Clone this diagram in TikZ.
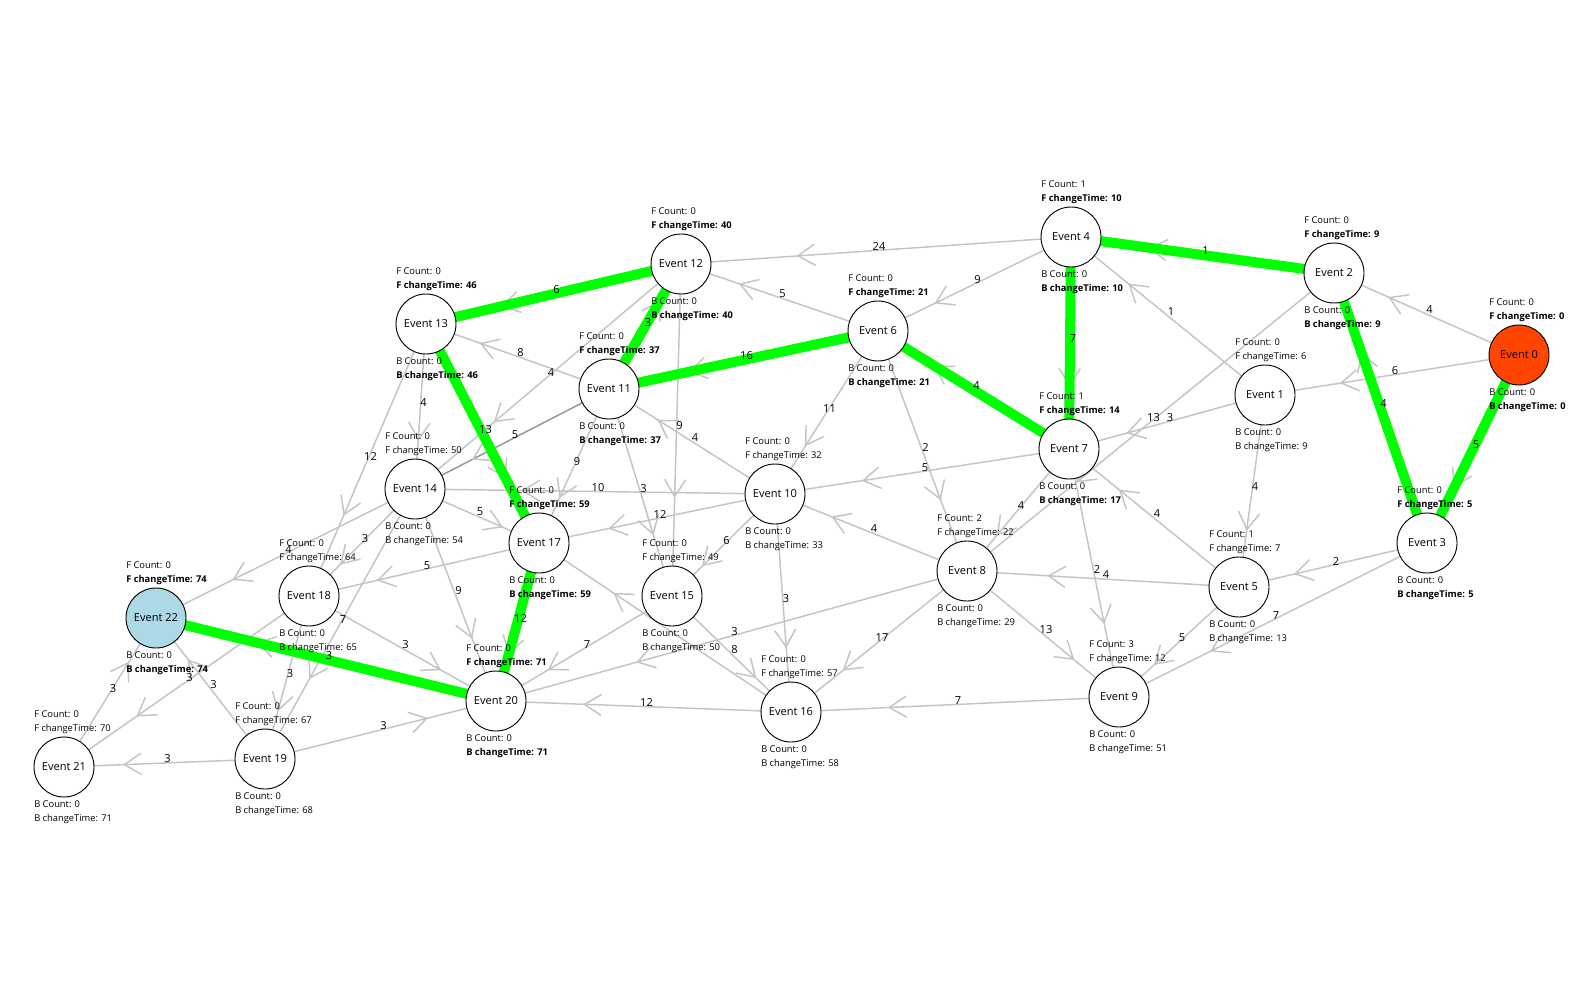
\documentclass[tikz,border=0pt]{standalone}
\usepackage{fontspec}
\setmainfont{Open Sans}
\usetikzlibrary{decorations.markings}
\definecolor{eg}{RGB}{196,196,196}
\definecolor{egdark}{RGB}{150,150,150}
\definecolor{crit}{RGB}{0,255,0}
\definecolor{srcfill}{RGB}{255,69,0}
\definecolor{dstfill}{RGB}{173,216,230}
\pgfdeclarelayer{bg}
\pgfdeclarelayer{gr}
\pgfdeclarelayer{lab}
\pgfsetlayers{bg,gr,lab,main}
\tikzset{
 ev/.style={circle,draw=black,line width=0.7pt,minimum size=45pt,inner sep=0pt,font=\fontsize{8.3}{10}\selectfont},
 info/.style={anchor=base west,inner sep=0pt,font=\fontsize{7}{8}\selectfont},
 elab/.style={inner sep=0pt,font=\fontsize{8.3}{10}\selectfont,xshift=2.25pt,yshift=3pt},
 chev/.style={decoration={markings,mark=at position 0.7 with {\draw[eg,line width=1.1pt] (-12.7pt,7.95pt) -- (0pt,0pt) -- (-12.7pt,-7.95pt);}},postaction={decorate}},
 gline/.style={draw=eg,line width=1.1pt},
 dline/.style={draw=egdark,line width=1.1pt},
 cline/.style={draw=crit,line width=7.5pt},
}
\newcommand\evn[9]{%
 \node[ev,fill=#4] (e#1) at (#2,#3) {Event #1};
 \path (#2,#3) ++(-30,-49.4) node[info] {F Count: #6};
 \path (#2,#3) ++(-30,-35.4) node[info] {#5F changeTime: #7};
 \path (#2,#3) ++(-30,40.6) node[info] {B Count: #8};
 \path (#2,#3) ++(-30,54.6) node[info] {#5B changeTime: #9};
}
\newcommand\ged[3]{%
 \begin{pgfonlayer}{bg}\draw[gline,chev] (e#1.center) -- (e#2.center);\end{pgfonlayer}%
 \begin{pgfonlayer}{lab}\path (e#1.center) -- node[elab]{#3} (e#2.center);\end{pgfonlayer}}
\newcommand\gedd[3]{%
 \begin{pgfonlayer}{bg}\draw[dline,chev] (e#1.center) -- (e#2.center);\end{pgfonlayer}%
 \begin{pgfonlayer}{lab}\path (e#1.center) -- node[elab]{#3} (e#2.center);\end{pgfonlayer}}
\newcommand\gedn[2]{%
 \begin{pgfonlayer}{bg}\draw[gline,chev] (e#1.center) -- (e#2.center);\end{pgfonlayer}}
\newcommand\cred[3]{%
 \begin{pgfonlayer}{bg}\path[chev] (e#1.center) -- (e#2.center);\end{pgfonlayer}%
 \begin{pgfonlayer}{gr}\draw[cline] (e#1.center) -- (e#2.center);\end{pgfonlayer}%
 \begin{pgfonlayer}{lab}\path (e#1.center) -- node[elab]{#3} (e#2.center);\end{pgfonlayer}}
\begin{document}
\begin{tikzpicture}[x=0.75pt,y=-0.75pt]
\begin{pgfonlayer}{bg}
\fill[white] (0,0) rectangle (1591,981);
\end{pgfonlayer}
\useasboundingbox (0,0) rectangle (1591,981);
\evn{0}{1519}{355}{srcfill}{\bfseries}{0}{0}{0}{0}
\evn{1}{1265}{395}{white}{}{0}{6}{0}{9}
\evn{2}{1334}{273}{white}{\bfseries}{0}{9}{0}{9}
\evn{3}{1427}{543}{white}{\bfseries}{0}{5}{0}{5}
\evn{4}{1071}{237}{white}{\bfseries}{1}{10}{0}{10}
\evn{5}{1239}{587}{white}{}{1}{7}{0}{13}
\evn{6}{878}{331}{white}{\bfseries}{0}{21}{0}{21}
\evn{7}{1069}{449}{white}{\bfseries}{1}{14}{0}{17}
\evn{8}{967}{571}{white}{}{2}{22}{0}{29}
\evn{9}{1119}{697}{white}{}{3}{12}{0}{51}
\evn{10}{775}{494}{white}{}{0}{32}{0}{33}
\evn{11}{609}{389}{white}{\bfseries}{0}{37}{0}{37}
\evn{12}{681}{264}{white}{\bfseries}{0}{40}{0}{40}
\evn{13}{426}{324}{white}{\bfseries}{0}{46}{0}{46}
\evn{14}{415}{489}{white}{}{0}{50}{0}{54}
\evn{15}{672}{596}{white}{}{0}{49}{0}{50}
\evn{16}{791}{712}{white}{}{0}{57}{0}{58}
\evn{17}{539}{543}{white}{\bfseries}{0}{59}{0}{59}
\evn{18}{309}{596}{white}{}{0}{64}{0}{65}
\evn{19}{265}{759}{white}{}{0}{67}{0}{68}
\evn{20}{496}{701}{white}{\bfseries}{0}{71}{0}{71}
\evn{21}{64}{767}{white}{}{0}{70}{0}{71}
\evn{22}{156}{618}{dstfill}{\bfseries}{0}{74}{0}{74}
% gray edges
\ged{0}{2}{4}
\ged{0}{1}{6}
\ged{2}{8}{13}
\ged{1}{7}{3}
\ged{1}{4}{1}
\ged{1}{5}{4}
\ged{3}{5}{2}
\ged{3}{9}{7}
\ged{5}{8}{4}
\ged{5}{7}{4}
\ged{5}{9}{5}
\ged{7}{8}{4}
\ged{7}{9}{2}
\ged{7}{10}{5}
\ged{8}{9}{13}
\ged{8}{10}{4}
\ged{8}{16}{17}
\ged{8}{20}{3}
\ged{6}{8}{2}
\ged{9}{16}{7}
\ged{4}{12}{24}
\ged{4}{6}{9}
\ged{6}{12}{5}
\ged{6}{10}{11}
\ged{10}{11}{4}
\ged{10}{17}{12}
\ged{10}{14}{10}
\ged{10}{15}{6}
\ged{10}{16}{3}
\ged{11}{13}{8}
\gedd{11}{14}{5}
\ged{12}{14}{4}
\ged{12}{15}{9}
\ged{11}{15}{3}
\ged{11}{17}{9}
\ged{13}{14}{4}
\ged{13}{18}{12}
\ged{14}{17}{5}
\ged{14}{20}{9}
\ged{14}{18}{3}
\ged{14}{22}{4}
\ged{14}{19}{7}
\ged{17}{18}{5}
\gedn{16}{17}
\ged{15}{16}{8}
\ged{15}{20}{7}
\ged{16}{20}{12}
\ged{18}{20}{3}
\ged{19}{20}{3}
\ged{18}{19}{3}
\ged{18}{21}{3}
\ged{19}{21}{3}
\ged{19}{22}{3}
\ged{21}{22}{3}
% critical path
\cred{0}{3}{5}
\cred{3}{2}{4}
\cred{2}{4}{1}
\cred{4}{7}{7}
\cred{7}{6}{4}
\cred{6}{11}{16}
\cred{11}{12}{3}
\cred{12}{13}{6}
\cred{13}{17}{13}
\cred{17}{20}{12}
\cred{20}{22}{3}
\end{tikzpicture}
\end{document}
